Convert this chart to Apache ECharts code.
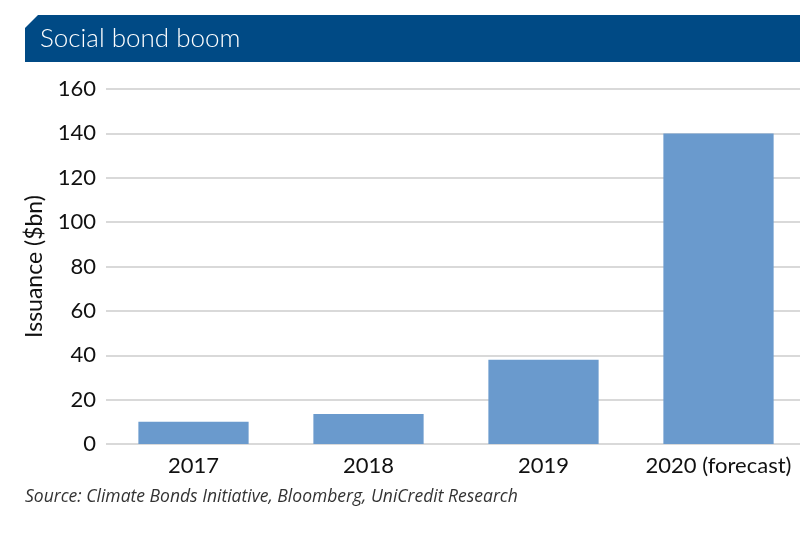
<!DOCTYPE html>
<html>
<head>
<meta charset="utf-8">
<script src="https://cdn.jsdelivr.net/npm/echarts@6/dist/echarts.min.js"></script>
<style>
  html, body { margin: 0; padding: 0; background: #fff; }
  #chart { width: 800px; height: 533px; }
</style>
</head>
<body>
<div id="chart"></div>
<script>
// data
const years = ['2017', '2018', '2019', '2020 (forecast)'];
const issuance = [10, 13.5, 38, 140];
const yTicks = [0, 20, 40, 60, 80, 100, 120, 140, 160];

const chart = echarts.init(document.getElementById('chart'));

chart.setOption({
  backgroundColor: '#fff',
  animation: false,
  textStyle: { fontFamily: 'Lato' },
  graphic: [
    // title band with clipped corner
    {
      type: 'polygon',
      shape: { points: [[25, 28], [38, 15], [800, 15], [800, 62], [25, 62]] },
      style: { fill: '#004a85' }
    },
    {
      type: 'text',
      left: 40,
      top: 26,
      style: { text: 'Social bond boom', fill: '#fff', fontSize: 26, fontFamily: 'Lato', fontWeight: 300 }
    },
    {
      type: 'text',
      left: 25,
      top: 488,
      style: {
        text: 'Source: Climate Bonds Initiative, Bloomberg, UniCredit Research',
        fill: '#333', fontSize: 17.5, fontStyle: 'italic', fontFamily: 'Open Sans'
      }
    }
  ],
  grid: { left: 106, width: 700, top: 89, bottom: 89, outerBoundsMode: 'none', containLabel: false },
  xAxis: {
    type: 'category',
    data: years,
    axisLine: { show: false },
    axisTick: { show: false },
    axisLabel: { color: '#111', fontSize: 22, margin: 11, interval: 0, hideOverlap: false }
  },
  yAxis: {
    type: 'value',
    min: yTicks[0],
    max: yTicks[yTicks.length - 1],
    interval: 20,
    name: 'Issuance ($bn)',
    nameLocation: 'middle',
    nameGap: 60,
    nameTextStyle: { color: '#111', fontSize: 23 },
    axisLine: { show: false },
    axisTick: { show: false },
    axisLabel: { color: '#111', fontSize: 22, margin: 10 },
    splitLine: { lineStyle: { color: '#d9d9d9', width: 2 } }
  },
  series: [{
    type: 'bar',
    data: issuance,
    barWidth: '63%',
    itemStyle: { color: '#6a9acd' }
  }]
});
</script>
</body>
</html>
